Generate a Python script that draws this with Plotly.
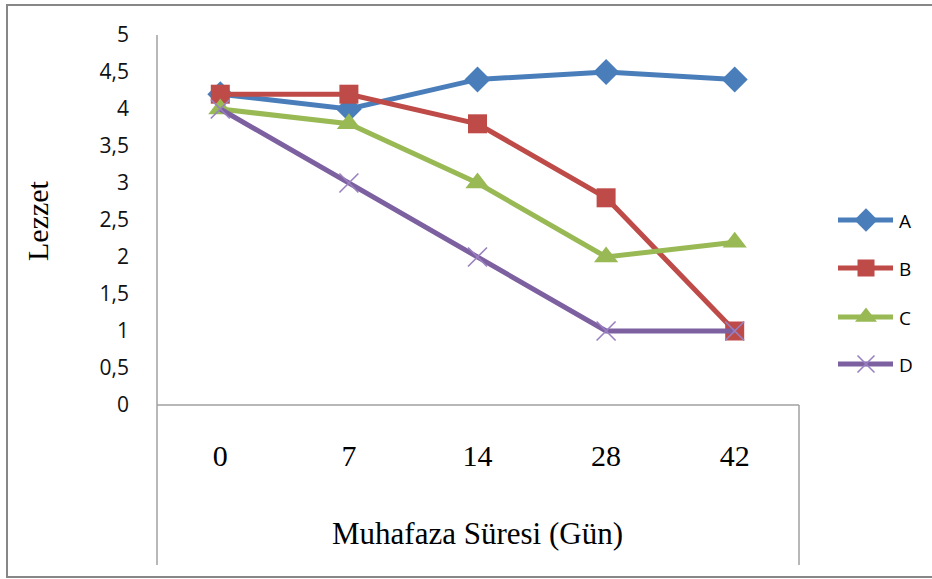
import plotly.graph_objects as go

# Storage time (days) and taste scores per sample
days = ["0", "7", "14", "28", "42"]
series_names = ["A", "B", "C", "D"]
score_a = [4.2, 4.0, 4.4, 4.5, 4.4]
score_b = [4.2, 4.2, 3.8, 2.8, 1.0]
score_c = [4.0, 3.8, 3.0, 2.0, 2.2]
score_d = [4.0, 3.0, 2.0, 1.0, 1.0]
y_ticks = [0, 0.5, 1, 1.5, 2, 2.5, 3, 3.5, 4, 4.5, 5]
y_tick_text = ["0", "0,5", "1", "1,5", "2", "2,5", "3", "3,5", "4", "4,5", "5"]

W, H = 932, 579
L, R, T, B = 156, 5, 35, 174
PW, PH = W - L - R, H - T - B
PLOT_RIGHT = 799  # right edge of the data area in pixels


def px(x):
    return (x - L) / PW


def py(y):
    return (H - B - y) / PH


styles = [
    dict(color="#4A7EBB", symbol="diamond", size=20, opacity=1, line=dict(width=0)),
    dict(color="#BE4B48", symbol="square", size=19, opacity=1, line=dict(width=0)),
    dict(color="#98B954", symbol="triangle-up", size=21, opacity=1, line=dict(width=0)),
    dict(color="#7D60A0", symbol="x-thin", size=19, opacity=1, line=dict(width=1.6, color="#9A80C0")),
]
line_colors = ["#4A7EBB", "#BE4B48", "#98B954", "#7D60A0"]
values = [score_a, score_b, score_c, score_d]

fig = go.Figure()
for name, vals, mk, lc in zip(series_names, values, styles, line_colors):
    fig.add_trace(go.Scatter(
        x=days, y=vals, name=name, mode="lines+markers",
        line=dict(color=lc, width=5), marker=mk, showlegend=False,
        hoverinfo="skip",
    ))

# Legend keys drawn on a separate subplot spanning the full drawing area (pixel units)
legend_y = [220, 268, 317, 364]
for name, mk, lc, ly in zip(series_names, styles, line_colors, legend_y):
    m = dict(mk)
    m["size"] = [0, mk["size"] - 2, 0]
    fig.add_trace(go.Scatter(
        x=[838, 866, 893], y=[ly, ly, ly], mode="lines+markers",
        line=dict(color=lc, width=5), marker=m, showlegend=False,
        xaxis="x2", yaxis="y2", hoverinfo="skip",
    ))
    fig.add_annotation(x=897, y=ly + 1, xref="x2", yref="y2", text=name,
                       showarrow=False, xanchor="left", yanchor="middle",
                       font=dict(family="Open Sans, Liberation Sans", size=19, color="#000"))

grey = "#A0A0A0"
shapes = [
    # outer frame
    dict(type="rect", xref="paper", yref="paper", x0=px(7), x1=px(945), y0=py(577), y1=py(5),
         line=dict(color="#878787", width=2)),
    # y axis line extended down
    dict(type="line", xref="paper", yref="paper", x0=px(157), x1=px(157), y0=py(565), y1=py(35),
         line=dict(color=grey, width=1.5)),
    # x axis line
    dict(type="line", xref="paper", yref="paper", x0=px(157), x1=px(799), y0=py(405), y1=py(405),
         line=dict(color=grey, width=1.5)),
    # right box edge below axis
    dict(type="line", xref="paper", yref="paper", x0=px(799), x1=px(799), y0=py(565), y1=py(405),
         line=dict(color=grey, width=1.5)),
]

fig.add_annotation(x=px(477), y=py(533), xref="paper", yref="paper", text="Muhafaza Süresi (Gün)",
                   showarrow=False, xanchor="center", yanchor="middle",
                   font=dict(family="Liberation Serif, Times New Roman", size=31, color="#000"))
fig.add_annotation(x=px(37), y=py(221), xref="paper", yref="paper", text="Lezzet", textangle=-90,
                   showarrow=False, xanchor="center", yanchor="middle",
                   font=dict(family="Liberation Serif, Times New Roman", size=30, color="#000"))

fig.update_layout(
    width=W, height=H, margin=dict(l=L, r=R, t=T, b=B),
    paper_bgcolor="white", plot_bgcolor="rgba(0,0,0,0)",
    shapes=shapes,
    xaxis=dict(type="category", range=[-0.5, 4.5], domain=[0, px(PLOT_RIGHT)],
               showgrid=False, zeroline=False, showline=False,
               ticks="", ticklabelstandoff=30,
               tickfont=dict(family="Liberation Serif, Times New Roman", size=30, color="#000")),
    yaxis=dict(range=[0, 5], tickvals=y_ticks, ticktext=y_tick_text, showgrid=False, zeroline=False,
               showline=False, ticks="", ticklabelstandoff=26,
               tickfont=dict(family="Open Sans, Liberation Sans", size=21, color="#111")),
    xaxis2=dict(domain=[0, 1], range=[L, W - R], anchor="y2", visible=False),
    yaxis2=dict(domain=[0, 1], range=[H - B, T], anchor="x2", visible=False),
    showlegend=False,
)

fig.write_html("out.html")
